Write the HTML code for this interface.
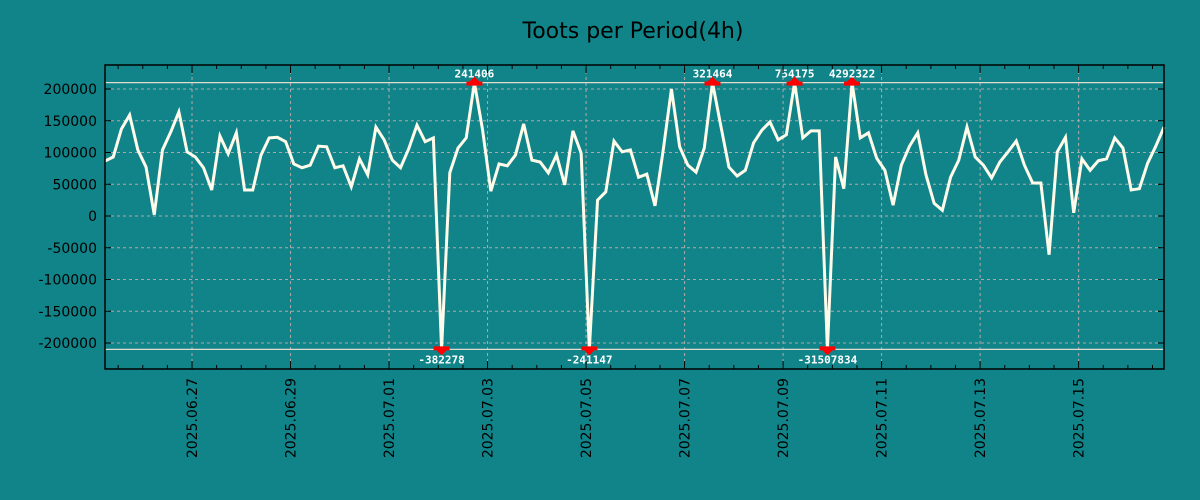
<!DOCTYPE html>
<html><head><meta charset="utf-8"><style>
html,body{margin:0;padding:0;background:#108488;}
svg{display:block;font-family:"DejaVu Sans","Liberation Sans",sans-serif;}
</style></head><body>
<svg id="chart" width="1200" height="500">
<rect width="1200" height="500" fill="#108488"/>
<text x="633" y="38" font-size="22" text-anchor="middle" fill="#000">Toots per Period(4h)</text>
<g id="grid"></g><g id="clip"></g><g id="series"></g><g id="marks"></g><g id="axes"></g>
</svg>
<script>
const startTime = "2025-06-25T05:36:00Z";
const stepHours = 4;
const values = [86600,92900,137000,159000,104000,77000,2000,104000,132000,164000,
101000,93000,76000,41000,126000,98000,131000,41000,41000,96000,
123000,124000,117000,82000,76000,80000,110000,109000,76000,79000,
46000,90000,65000,140000,120000,88000,76000,106000,143000,117000,
123000,-382278,68000,107000,123000,241406,135000,39000,82000,79000,
96000,145000,88000,85000,68000,96000,49000,134000,99000,-241147,
25000,38000,118000,101000,104000,61000,66000,16000,104000,200000,
109000,80000,69000,107000,321464,143000,77000,63000,72000,115000,
135000,148000,120000,128000,754175,123000,134000,134000,-31507834,93000,
43000,4292322,123000,131000,91000,72000,17000,80000,110000,131000,
65000,20000,9000,61000,88000,140000,93000,80000,60000,85000,
101000,118000,80000,52000,52000,-61000,101000,124000,5000,90000,
72000,87000,90000,123000,107000,41000,43000,83000,110000,140000];
const yTicks = [200000,150000,100000,50000,0,-50000,-100000,-150000,-200000];
const xTickLabels = ["2025.06.27","2025.06.29","2025.07.01","2025.07.03","2025.07.05","2025.07.07","2025.07.09","2025.07.11","2025.07.13","2025.07.15"];
const clipLimit = 210000;

const L=105,R=1164,T=65,B=369;
const t0=Date.parse(startTime), tEnd=t0+(values.length-1)*stepHours*3600e3;
const xs=t=>L+(t-t0)/(tEnd-t0)*(R-L);
const ys=v=>216-v*127/200000;
const NS="http://www.w3.org/2000/svg";
function mk(tag,attrs,parent){const e=document.createElementNS(NS,tag);for(const k in attrs)e.setAttribute(k,attrs[k]);parent.appendChild(e);return e;}
const grid=document.getElementById('grid'),axes=document.getElementById('axes'),series=document.getElementById('series'),marks=document.getElementById('marks'),clip=document.getElementById('clip');
// y grid & labels
yTicks.forEach(v=>{const y=ys(v);
 const g=mk('line',{x1:L,x2:R,y1:y,y2:y,stroke:'#b0a8a8','stroke-width':1,'stroke-dasharray':'3,3'},grid);
 
 
 const tk=mk('line',{x1:L,x2:L+6,y1:y,y2:y,stroke:'#000'},axes);
 
 
 const tk2=mk('line',{x1:R-6,x2:R,y1:y,y2:y,stroke:'#000'},axes);
 
 
 const t=mk('text',{x:L-8,y:y+5,'font-size':14,'text-anchor':'end',fill:'#000'},axes);t.textContent=v;
 
 
});
// x grid, ticks, labels
xTickLabels.forEach(s=>{const p=s.split('.');const t=Date.parse(p[0]+'-'+p[1]+'-'+p[2]+'T00:00:00Z');const x=xs(t);
 const g=mk('line',{x1:x,x2:x,y1:T,y2:B,stroke:'#b0a8a8','stroke-width':1,'stroke-dasharray':'3,3'},grid);
 
 
 const lb=mk('text',{x:0,y:0,'font-size':14,'text-anchor':'end',fill:'#000',transform:`translate(${x+5},378) rotate(-90)`},axes);lb.textContent=s;
 
 
});
for(let t=Date.parse("2025-06-25T12:00:00Z");t<=tEnd;t+=12*3600e3){if(t<t0)continue;const x=xs(t);const maj=((t/3600e3)%48)===0;const len=maj?8:4;
 const a=mk('line',{x1:x,x2:x,y1:B-len,y2:B,stroke:'#000'},axes);
 
 
 const b=mk('line',{x1:x,x2:x,y1:T,y2:T+len,stroke:'#000'},axes);
 
 
}
// clip lines
[clipLimit,-clipLimit].forEach(v=>{const c=mk('line',{x1:L,x2:R,y1:ys(v),y2:ys(v),stroke:'#e0dcd0','stroke-width':1.3},clip);
 
 });
// series
const pts=values.map((v,i)=>{const cv=Math.max(-clipLimit,Math.min(clipLimit,v));return [xs(t0+i*stepHours*3600e3),ys(cv)];});
const pl=mk('polyline',{points:pts.map(p=>p.join(',')).join(' '),fill:'none',stroke:'#fffbea','stroke-width':3,'stroke-linejoin':'miter'},series);


values.forEach((v,i)=>{if(Math.abs(v)<=clipLimit)return;const [x,y]=pts[i];
 if(v>0){const m=mk('path',{d:`M${x-8},${y+3}h16v-4h-3l-5,-5l-5,5h-3z`,fill:'#ff0000'},marks);
  
  
  const t=mk('text',{x:x,y:y-5,'font-size':11,'font-weight':'bold','text-anchor':'middle',fill:'#fff','font-family':'"DejaVu Sans Mono","Liberation Mono",monospace'},marks);t.textContent=v;
  
  
 } else {const m=mk('path',{d:`M${x-8},${y-3}h16v4h-3l-5,5l-5,-5h-3z`,fill:'#ff0000'},marks);
  
  
  const t=mk('text',{x:x,y:y+14,'font-size':11,'font-weight':'bold','text-anchor':'middle',fill:'#fff','font-family':'"DejaVu Sans Mono","Liberation Mono",monospace'},marks);t.textContent=v;
  
  }
});
const fr=mk('rect',{x:L,y:T,width:R-L,height:B-T,fill:'none',stroke:'#000','stroke-width':1.5},axes);


</script>
</body></html>
